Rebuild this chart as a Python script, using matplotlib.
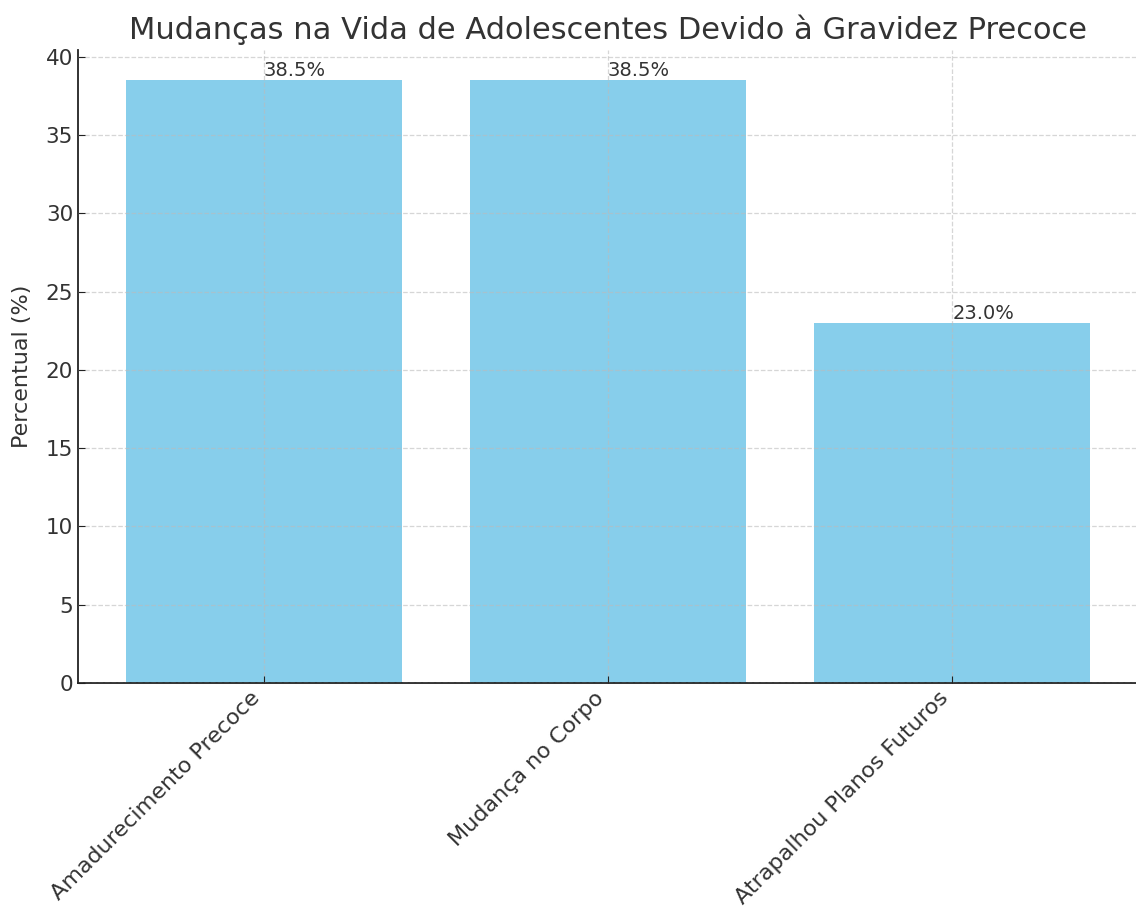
import matplotlib.pyplot as plt
import numpy as np

categories = ["Amadurecimento Precoce", "Mudança no Corpo", "Atrapalhou Planos Futuros"]
values = [38.5, 38.5, 23.0]

TEXT = "#333333"

fig = plt.figure(figsize=(11.36, 9.11), dpi=100)
ax = fig.add_axes([78 / 1136, 228 / 911, 1060 / 1136, 633 / 911])

x = np.arange(len(categories))
bars = ax.bar(x, values, width=0.8, color="skyblue", zorder=1)

for bar in bars:
    h = bar.get_height()
    ax.text(bar.get_x() + bar.get_width() / 2, h, f"{h}%", va="bottom", ha="left",
            fontsize=14, color=TEXT)

ax.set_xticks(x)
ax.set_xticklabels(categories, rotation=45, ha="right", fontsize=16, color=TEXT)
ax.set_yticks(np.arange(0, 41, 5))
ax.tick_params(axis="y", labelsize=15.5, labelcolor=TEXT)
ax.tick_params(direction="in", length=5, color="#222222")
ax.set_ylabel("Percentual (%)", fontsize=16, color=TEXT, labelpad=10)
ax.set_title("Mudanças na Vida de Adolescentes Devido à Gravidez Precoce",
             fontsize=22, color=TEXT, pad=8)

ax.spines["top"].set_visible(False)
ax.spines["right"].set_visible(False)
for s in ("left", "bottom"):
    ax.spines[s].set_color("#222222")
    ax.spines[s].set_linewidth(1.3)

ax.set_axisbelow(False)
ax.grid(True, linestyle="--", color="#bbbbbb", alpha=0.6, linewidth=0.9)

fig.savefig("out.png", dpi=100, facecolor="white")
